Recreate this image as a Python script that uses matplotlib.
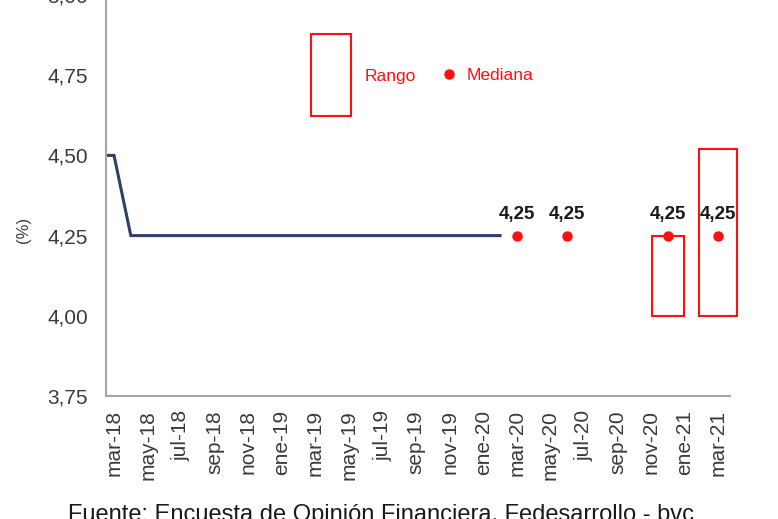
import matplotlib
matplotlib.use("Agg")
import matplotlib.pyplot as plt
from matplotlib.patches import Rectangle

plt.rcParams['font.family'] = ['Liberation Sans', 'DejaVu Sans']

# month helper: 'mmm-yy' -> months since mar-18
MESES = ['ene', 'feb', 'mar', 'abr', 'may', 'jun', 'jul', 'ago', 'sep', 'oct', 'nov', 'dic']

def mes(s):
    m, y = s.split('-')
    return (int(y) - 18) * 12 + MESES.index(m) - 2

# observed policy rate
line_dates = ['feb-18', 'mar-18', 'abr-18', 'may-18', 'jun-18', 'jul-18', 'ago-18', 'sep-18',
              'oct-18', 'nov-18', 'dic-18', 'ene-19', 'feb-19', 'mar-19', 'abr-19', 'may-19',
              'jun-19', 'jul-19', 'ago-19', 'sep-19', 'oct-19', 'nov-19', 'dic-19', 'ene-20', 'feb-20']
line_values = [4.50, 4.50, 4.25, 4.25, 4.25, 4.25, 4.25, 4.25,
               4.25, 4.25, 4.25, 4.25, 4.25, 4.25, 4.25, 4.25,
               4.25, 4.25, 4.25, 4.25, 4.25, 4.25, 4.25, 4.25, 4.25]

# survey expectations
survey_dates = ['mar-20', 'jun-20', 'dic-20', 'mar-21']
medians = [4.25, 4.25, 4.25, 4.25]
median_labels = ['4,25', '4,25', '4,25', '4,25']
range_dates = ['dic-20', 'mar-21']
range_low = [4.00, 4.00]
range_high = [4.25, 4.52]
range_width = [1.9, 2.3]

tick_labels = ['mar-18', 'may-18', 'jul-18', 'sep-18', 'nov-18', 'ene-19', 'mar-19', 'may-19',
               'jul-19', 'sep-19', 'nov-19', 'ene-20', 'mar-20', 'may-20', 'jul-20', 'sep-20',
               'nov-20', 'ene-21', 'mar-21']
yticks = [3.75, 4.00, 4.25, 4.50, 4.75, 5.00]

red = '#FF1010'
navy = '#2E4068'

fig = plt.figure(figsize=(7.78, 5.19), dpi=100)
ax = fig.add_axes([0.1362, 0.237, 0.802, 0.7726])

ax.plot([mes(d) for d in line_dates], line_values, color=navy, lw=2.2, solid_joinstyle='miter')

for d, lo, hi, w in zip(range_dates, range_low, range_high, range_width):
    ax.add_patch(Rectangle((mes(d) - w / 2, lo), w, hi - lo, fill=False,
                           edgecolor=red, lw=1.5, clip_on=False))

xs = [mes(d) for d in survey_dates]
ax.plot(xs, medians, 'o', color=red, ms=6.5, clip_on=False, zorder=4)
for x, v, t in zip(xs, medians, median_labels):
    ax.annotate(t, (x, v), xytext=(0, 9), textcoords='offset points',
                ha='center', va='bottom', fontsize=13.5, fontweight='bold', color='#1a1a1a')

ax.set_xlim(-0.48, 36.7)
ax.set_ylim(3.75, 5.0)
ax.set_yticks(yticks)
ax.set_yticklabels([f'{v:.2f}'.replace('.', ',') for v in yticks])
ax.set_xticks([mes(t) for t in tick_labels])
ax.set_xticklabels(tick_labels, rotation=90)
ax.tick_params(axis='both', length=0, colors='#3a3a3a', labelsize=15)
ax.tick_params(axis='y', pad=13)
ax.tick_params(axis='x', pad=10)
for s in ['top', 'right']:
    ax.spines[s].set_visible(False)
for s in ['left', 'bottom']:
    ax.spines[s].set_color('#a6a6a6')
    ax.spines[s].set_linewidth(1.5)

fig.text(23 / 778, 0.557, '(%)', rotation=90, ha='center', va='center', fontsize=12, color='#404040')

# manual legend
fig.patches.append(Rectangle((311 / 778, 1 - 116 / 519), 40 / 778, 82 / 519, fill=False,
                             edgecolor=red, lw=1.5, transform=fig.transFigure, figure=fig))
fig.text(365 / 778, 1 - 77 / 519, 'Rango', color=red, fontsize=12.5, va='center')
fig.lines.append(plt.Line2D([449 / 778], [1 - 74 / 519], marker='o', color=red, ms=6.5,
                            transform=fig.transFigure, figure=fig))
fig.text(467 / 778, 1 - 76 / 519, 'Mediana', color=red, fontsize=12.5, va='center')

fig.text(0.49, 1 - 504 / 519, 'Fuente: Encuesta de Opinión Financiera, Fedesarrollo - bvc',
         ha='center', va='top', fontsize=17, color='#1a1a1a')

fig.savefig('out.png', dpi=100)
